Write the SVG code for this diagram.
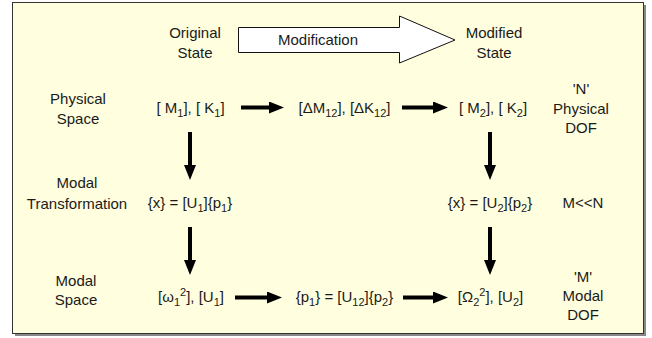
<svg xmlns="http://www.w3.org/2000/svg" width="652" height="338" viewBox="0 0 652 338">
<style>
text{font-family:"Liberation Sans",Arial,sans-serif;font-size:15px;fill:#1a1a1a;text-anchor:middle}
.s{font-size:11px}
.c{stroke:#000;stroke-width:4;fill:none}
</style>
<defs>
<marker id="ah" markerUnits="userSpaceOnUse" markerWidth="15" markerHeight="12" viewBox="0 0 15 12" refX="0" refY="6" orient="auto">
<path d="M0,0 L15,6 L0,12 Z" fill="#000"/>
</marker>
</defs>
<rect x="15" y="5" width="631" height="331" fill="#888"/>
<rect x="12.5" y="2.5" width="631" height="331" fill="#FFFFE0" stroke="#333" stroke-width="1"/>

<g id="modification">
<polygon points="238.5,27.5 399.5,27.5 399.5,16 455,40 399.5,63 399.5,52.5 238.5,52.5" fill="#fff" stroke="#111" stroke-width="1"/>
<text x="318" y="45">Modification</text>
</g>

<g id="original-state"><text x="195" y="38">Original</text><text x="195" y="58">State</text></g>
<g id="modified-state"><text x="494" y="38">Modified</text><text x="494" y="58">State</text></g>

<g id="label-physical-space"><text x="78" y="104">Physical</text><text x="78" y="124">Space</text></g>
<g id="label-modal-transformation"><text x="77" y="188">Modal</text><text x="77" y="209">Transformation</text></g>
<g id="label-modal-space"><text x="76" y="286">Modal</text><text x="76" y="305">Space</text></g>

<g id="n-physical-dof"><text x="581" y="94">'N'</text><text x="581" y="114">Physical</text><text x="581" y="133">DOF</text></g>
<g id="m-less-n"><text x="583" y="208">M&lt;&lt;N</text></g>
<g id="m-modal-dof"><text x="583" y="282">'M'</text><text x="583" y="301">Modal</text><text x="583" y="320">DOF</text></g>

<g id="mk1"><text x="190.5" y="113">[ M<tspan class="s" dy="4">1</tspan><tspan dy="-4">], [ K</tspan><tspan class="s" dy="4">1</tspan><tspan dy="-4">]</tspan></text></g>
<g id="dmk12"><text x="344.5" y="113">[ΔM<tspan class="s" dy="4">12</tspan><tspan dy="-4">], [ΔK</tspan><tspan class="s" dy="4">12</tspan><tspan dy="-4">]</tspan></text></g>
<g id="mk2"><text x="493" y="113">[ M<tspan class="s" dy="4">2</tspan><tspan dy="-4">], [ K</tspan><tspan class="s" dy="4">2</tspan><tspan dy="-4">]</tspan></text></g>

<g id="xu1"><text x="190" y="208">{x} = [U<tspan class="s" dy="4">1</tspan><tspan dy="-4">]{p</tspan><tspan class="s" dy="4">1</tspan><tspan dy="-4">}</tspan></text></g>
<g id="xu2"><text x="490" y="208">{x} = [U<tspan class="s" dy="4">2</tspan><tspan dy="-4">]{p</tspan><tspan class="s" dy="4">2</tspan><tspan dy="-4">}</tspan></text></g>

<g id="omega1"><text x="191" y="302">[ω<tspan class="s" dy="4">1</tspan><tspan class="s" dy="-10">2</tspan><tspan dy="6">], [U</tspan><tspan class="s" dy="4">1</tspan><tspan dy="-4">]</tspan></text></g>
<g id="p1u12"><text x="344.5" y="302">{p<tspan class="s" dy="4">1</tspan><tspan dy="-4">} = [U</tspan><tspan class="s" dy="4">12</tspan><tspan dy="-4">]{p</tspan><tspan class="s" dy="4">2</tspan><tspan dy="-4">}</tspan></text></g>
<g id="omega2"><text x="490.5" y="302">[Ω<tspan class="s" dy="4">2</tspan><tspan class="s" dy="-10">2</tspan><tspan dy="6">], [U</tspan><tspan class="s" dy="4">2</tspan><tspan dy="-4">]</tspan></text></g>

<g id="connectors">
<line class="c" x1="241" y1="107.5" x2="269" y2="107.5" marker-end="url(#ah)"/>
<line class="c" x1="402" y1="107.5" x2="433" y2="107.5" marker-end="url(#ah)"/>
<line class="c" x1="235" y1="297.5" x2="267" y2="297.5" marker-end="url(#ah)"/>
<line class="c" x1="403" y1="297.5" x2="433" y2="297.5" marker-end="url(#ah)"/>
<line class="c" x1="190" y1="132" x2="190" y2="165" marker-end="url(#ah)"/>
<line class="c" x1="490" y1="132" x2="490" y2="165" marker-end="url(#ah)"/>
<line class="c" x1="190" y1="227" x2="190" y2="260" marker-end="url(#ah)"/>
<line class="c" x1="490" y1="227" x2="490" y2="260" marker-end="url(#ah)"/>
</g>
</svg>
